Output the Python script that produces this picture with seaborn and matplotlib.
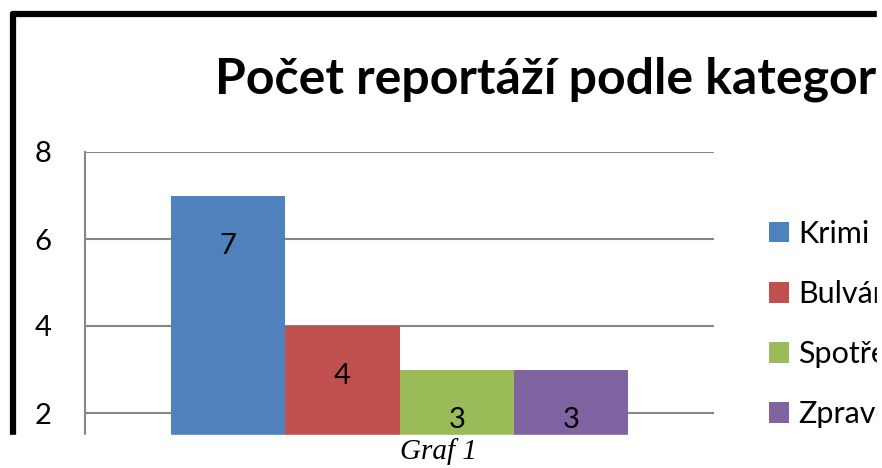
import matplotlib
matplotlib.use("Agg")
import matplotlib.pyplot as plt
import seaborn as sns
import pandas as pd
from matplotlib.patches import Rectangle
from matplotlib.lines import Line2D

kategorie = ['Krimi', 'Bulvár', 'Spotřebitelské', 'Zpravodajství']
pocet = [7, 4, 3, 3]
barvy = ['#4F81BD', '#C0504D', '#9BBB59', '#8064A2']
y_ticks = [2, 4, 6, 8]

df = pd.DataFrame({'skupina': [''] * len(kategorie), 'kategorie': kategorie, 'pocet': pocet})

sns.set_style('white')
plt.rcParams['font.family'] = ['Lato', 'DejaVu Sans']
plt.rcParams['text.color'] = 'black'
plt.rcParams['ytick.color'] = 'black'

W, H = 882, 468
fig = plt.figure(figsize=(W / 100, H / 100), dpi=100)

def fx(px):
    return px / W

def fy(py):
    return 1 - py / H

ax = fig.add_axes([fx(85), fy(435), fx(714) - fx(85), fy(152) - fy(435)])
sns.barplot(data=df, x='skupina', y='pocet', hue='kategorie', palette=barvy,
            width=0.728, saturation=1, linewidth=0, ax=ax, legend=True)
ax.set_xlim(-0.5, 0.5)
ax.set_ylim(2 - 22 / 43.5, 8)
ax.set_yticks(y_ticks)
ax.set_yticklabels([str(v) for v in y_ticks], fontsize=21)
ax.tick_params(axis='y', length=0, pad=24, labelcolor='black')
ax.set_xticks([])
ax.set_xlabel('')
ax.set_ylabel('')
ax.grid(axis='y', color='#868686', linewidth=1.5)
ax.set_axisbelow(True)
for s in ['top', 'right', 'bottom']:
    ax.spines[s].set_visible(False)
ax.spines['left'].set_color('#868686')
ax.spines['left'].set_linewidth(1.5)

for cont in ax.containers:
    for bar in cont:
        h = bar.get_height()
        ax.annotate(f'{h:.0f}', (bar.get_x() + bar.get_width() / 2, h),
                    xytext=(0, -36), textcoords='offset points',
                    ha='center', va='center', fontsize=21, color='black')

leg = ax.get_legend()
handles = leg.legend_handles
labels = [t.get_text() for t in leg.get_texts()]
leg.remove()
ax.legend(handles, labels, loc='upper left', bbox_to_anchor=(fx(769), fy(220)),
          bbox_transform=fig.transFigure, frameon=False, fontsize=22,
          handlelength=0.65, handleheight=0.65, handletextpad=0.3,
          labelspacing=1.05, borderpad=0, borderaxespad=0, labelcolor='black')

fig.text(fx(215), fy(93), 'Počet reportáží podle kategorií', fontsize=36,
         fontweight='bold', ha='left', va='baseline', color='black')

# ramecek grafu
fig.add_artist(Line2D([fx(13), fx(880)], [fy(14), fy(14)], color='black', lw=4.5, zorder=4))
fig.add_artist(Line2D([fx(13), fx(13)], [fy(14), fy(440)], color='black', lw=4.5, zorder=4))

# orez obrazku
fig.add_artist(Rectangle((fx(877), 0), 1, 1, color='white', zorder=6))
fig.add_artist(Rectangle((0, 0), 1, fy(435), color='white', zorder=6))

fig.text(fx(438), fy(452), 'Graf 1', fontsize=21, fontstyle='italic',
         family='Liberation Serif', ha='center', va='center', zorder=7, color='black')

fig.savefig('out.png', dpi=100)
